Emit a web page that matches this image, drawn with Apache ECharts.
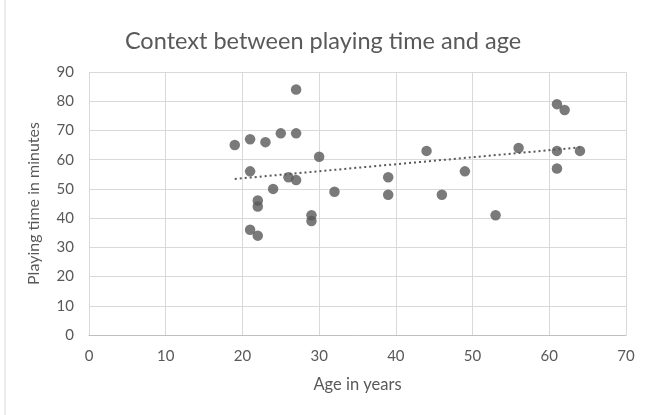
<!DOCTYPE html>
<html><head><meta charset="utf-8">
<script src="https://cdn.jsdelivr.net/npm/echarts@6/dist/echarts.min.js"></script>
<style>html,body{margin:0;padding:0;background:#fff}#c{width:646px;height:415px}</style>
</head><body><div id="c"></div>
<script>
var ages = [19,21,23,25,27,27,30,21,26,27,24,32,22,22,29,29,21,22,44,39,39,46,49,53,56,61,62,61,61,64];
var minutes = [65,67,66,69,69,84,61,56,54,53,50,49,46,44,41,39,36,34,63,54,48,48,56,41,64,79,77,63,57,63];
var trendAges = [19,64];
var trendMinutes = [53.4,64.2];
var titleText = 'Context between playing time and age';
var xName = 'Age in years';
var yName = 'Playing time in minutes';

var pts = ages.map(function(a,i){return [a, minutes[i]];});
var trend = trendAges.map(function(a,i){return [a, trendMinutes[i]];});
var font = 'Lato, "Open Sans", sans-serif';
var chart = echarts.init(document.getElementById('c'));
chart.setOption({
  animation:false,
  title:{text:titleText,left:'center',top:24,textStyle:{fontFamily:font,fontSize:23.5,fontWeight:'normal',color:'#595959'}},
  grid:{left:89,right:20,top:72,bottom:80},
  graphic:[{type:'line',shape:{x1:5,y1:0,x2:5,y2:415},style:{stroke:'#d9d9d9',lineWidth:1}}],
  xAxis:{type:'value',min:0,max:70,interval:10,name:xName,nameLocation:'middle',nameGap:41,
    nameTextStyle:{fontFamily:font,fontSize:16.5,color:'#595959'},
    axisLine:{show:true,lineStyle:{color:'#bfbfbf'}},axisTick:{show:false},
    axisLabel:{fontFamily:font,fontSize:15,color:'#595959',margin:14},
    splitLine:{show:true,lineStyle:{color:'#d9d9d9'}}},
  yAxis:{type:'value',min:0,max:90,interval:10,name:yName,nameLocation:'middle',nameGap:47,
    nameTextStyle:{fontFamily:font,fontSize:16,color:'#595959'},
    axisLine:{show:false},axisTick:{show:false},
    axisLabel:{fontFamily:font,fontSize:15,color:'#595959',margin:15},
    splitLine:{show:true,lineStyle:{color:'#d9d9d9'}}},
  series:[
    {type:'line',data:trend,symbol:'none',lineStyle:{color:'#595959',width:2,type:[2,3]},z:1},
    {type:'scatter',data:pts,symbolSize:10.5,itemStyle:{color:'#595959'},z:2}
  ]
});
</script></body></html>
